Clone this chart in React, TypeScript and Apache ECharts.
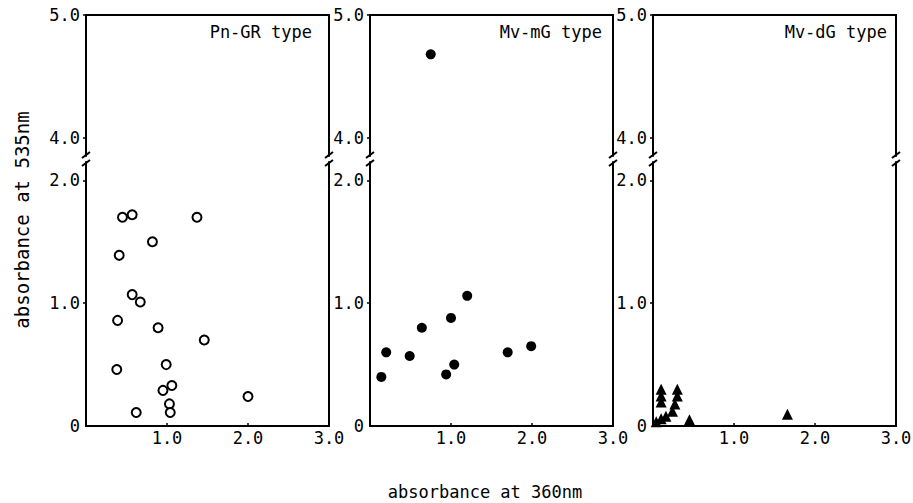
import React, { useEffect, useRef } from "react";
import * as echarts from "echarts";

const MONO = '"DejaVu Sans Mono", monospace';

// Pn-GR type (open circles)
const pnX = [0.45, 0.57, 1.37, 0.82, 0.41, 0.57, 0.67, 0.39, 0.89, 1.46, 0.38, 0.99, 0.95, 1.06, 2.0, 1.03, 1.04, 0.62];
const pnY = [1.70, 1.72, 1.70, 1.50, 1.39, 1.07, 1.01, 0.86, 0.80, 0.70, 0.46, 0.50, 0.29, 0.33, 0.24, 0.18, 0.11, 0.11];

// Mv-mG type (filled circles)
const mmX = [0.14, 0.20, 0.49, 0.64, 1.00, 1.20, 0.94, 1.04, 1.70, 1.99, 0.75];
const mmY = [0.40, 0.60, 0.57, 0.80, 0.88, 1.06, 0.42, 0.50, 0.60, 0.65, 4.68];

// Mv-dG type (filled triangles)
const mdX = [0.10, 0.10, 0.10, 0.30, 0.30, 0.27, 0.24, 0.16, 0.10, 0.04, 0.45, 1.66];
const mdY = [0.30, 0.245, 0.195, 0.30, 0.245, 0.18, 0.12, 0.08, 0.06, 0.035, 0.05, 0.096];

const panelTitles = ["Pn-GR type", "Mv-mG type", "Mv-dG type"];
const lowerTicks = [0, 1, 2];
const upperTicks = [4, 5];
const xTicks = [1, 2];

const yTitle = "absorbance at 535nm";
const xTitle = "absorbance at 360nm";

export default function App() {
  const ref = useRef<HTMLDivElement>(null);

  useEffect(() => {
    if (!ref.current) return;
    const chart = echarts.init(ref.current, null, { renderer: "svg" });

    const panelLeft = [86, 370, 653];
    const panelW = 243;
    const upperTop = 15;
    const upperH = 141;
    const lowerTop = 162;
    const lowerH = 264;
    const lowerMax = 2.15;
    const upperMin = 3.854;
    const upperMax = 5.0;
    const titleRight = [601, 311, 26];

    const lineStyle = { color: "#000", width: 2 };
    const labelStyle = { color: "#000", fontFamily: MONO, fontSize: 17 };

    const grids: any[] = [];
    const xAxes: any[] = [];
    const yAxes: any[] = [];
    const series: any[] = [];
    const titles: any[] = [];
    const graphics: any[] = [];

    const sets = [
      { x: pnX, y: pnY, symbol: "circle", size: 9, item: { color: "#fff", borderColor: "#000", borderWidth: 2, opacity: 1 } },
      { x: mmX, y: mmY, symbol: "circle", size: 10, item: { color: "#000", opacity: 1 } },
      { x: mdX, y: mdY, symbol: "triangle", size: 11, item: { color: "#000", opacity: 1 } },
    ];

    for (let p = 0; p < 3; p++) {
      const gU = p * 2;
      const gL = p * 2 + 1;
      grids.push({ left: panelLeft[p], width: panelW, top: upperTop, height: upperH, show: false, containLabel: false, outerBoundsMode: "none" });
      grids.push({ left: panelLeft[p], width: panelW, top: lowerTop, height: lowerH, show: false, containLabel: false, outerBoundsMode: "none" });

      // upper x axis (top border)
      xAxes.push({
        type: "value", gridIndex: gU, position: "top", min: 0, max: 3,
        axisLine: { show: true, onZero: false, lineStyle },
        axisTick: { show: false }, axisLabel: { show: false }, splitLine: { show: false },
      });
      // lower x axis
      xAxes.push({
        type: "value", gridIndex: gL, position: "bottom", min: 0, max: 3, interval: 1,
        axisLine: { show: true, onZero: false, lineStyle },
        axisTick: { show: true, inside: true, length: 3, customValues: xTicks, lineStyle: { color: "#000", width: 1.5 } },
        axisLabel: {
          ...labelStyle, margin: 3,
          formatter: (v: number) => (v === 0 ? "" : v.toFixed(1)),
        },
        splitLine: { show: false },
      });

      // upper left y axis
      yAxes.push({
        type: "value", gridIndex: gU, position: "left", min: upperMin, max: upperMax,
        axisLine: { show: true, onZero: false, lineStyle },
        axisTick: { show: true, inside: false, length: 3, customValues: upperTicks, lineStyle: { color: "#000", width: 1.5 } },
        axisLabel: { ...labelStyle, margin: 6, customValues: upperTicks, padding: [4, 0, 0, 0], formatter: (v: number) => v.toFixed(1) },
        splitLine: { show: false },
      });
      // upper right y axis
      yAxes.push({
        type: "value", gridIndex: gU, position: "right", min: upperMin, max: upperMax,
        axisLine: { show: true, onZero: false, lineStyle },
        axisTick: { show: false }, axisLabel: { show: false }, splitLine: { show: false },
      });
      // lower left y axis
      yAxes.push({
        type: "value", gridIndex: gL, position: "left", min: 0, max: lowerMax,
        axisLine: { show: true, onZero: false, lineStyle },
        axisTick: { show: true, inside: false, length: 3, customValues: [1, 2], lineStyle: { color: "#000", width: 1.5 } },
        axisLabel: {
          ...labelStyle, margin: 6, customValues: lowerTicks, padding: [5, 0, 0, 0],
          formatter: (v: number) => (v === 0 ? "0" : v.toFixed(1)),
        },
        splitLine: { show: false },
      });
      // lower right y axis
      yAxes.push({
        type: "value", gridIndex: gL, position: "right", min: 0, max: lowerMax,
        axisLine: { show: true, onZero: false, lineStyle },
        axisTick: { show: false }, axisLabel: { show: false }, splitLine: { show: false },
      });

      const s = sets[p];
      const upperData: number[][] = [];
      const lowerData: number[][] = [];
      s.x.forEach((xv, i) => {
        const yv = s.y[i];
        if (yv > 3) upperData.push([xv, yv]);
        else lowerData.push([xv, yv]);
      });
      const yBase = p * 4;
      series.push({
        type: "scatter", xAxisIndex: p * 2, yAxisIndex: yBase, data: upperData,
        symbol: s.symbol, symbolSize: s.size, itemStyle: s.item, silent: true,
      });
      series.push({
        type: "scatter", xAxisIndex: p * 2 + 1, yAxisIndex: yBase + 2, data: lowerData,
        symbol: s.symbol, symbolSize: s.size, itemStyle: s.item, silent: true,
      });

      titles.push({
        text: panelTitles[p], right: titleRight[p], top: 23, padding: 0,
        textStyle: { color: "#000", fontFamily: MONO, fontSize: 17, fontWeight: "normal" },
      });

      // axis break marks
      [panelLeft[p], panelLeft[p] + panelW].forEach((bx) => {
        [155, 163].forEach((by) => {
          graphics.push({
            type: "line", silent: true,
            shape: { x1: bx - 4, y1: by + 3, x2: bx + 4, y2: by - 3 },
            style: { stroke: "#000", lineWidth: 2 },
          });
        });
      });
    }

    graphics.push({
      type: "text", x: 22, y: 220, rotation: Math.PI / 2, silent: true,
      style: { text: yTitle, font: `19px ${MONO}`, fill: "#000", align: "center", verticalAlign: "middle", textAlign: "center", textVerticalAlign: "middle" },
    });
    graphics.push({
      type: "text", x: 485, y: 492, silent: true,
      style: { text: xTitle, font: `17px ${MONO}`, fill: "#000", align: "center", verticalAlign: "middle", textAlign: "center", textVerticalAlign: "middle" },
    });

    chart.setOption({
      animation: false,
      backgroundColor: "#fff",
      title: titles,
      grid: grids,
      xAxis: xAxes,
      yAxis: yAxes,
      series,
      graphic: graphics,
    });

    return () => chart.dispose();
  }, []);

  return <div ref={ref} style={{ position: "fixed", left: 0, top: 0, width: 913, height: 503 }} />;
}
